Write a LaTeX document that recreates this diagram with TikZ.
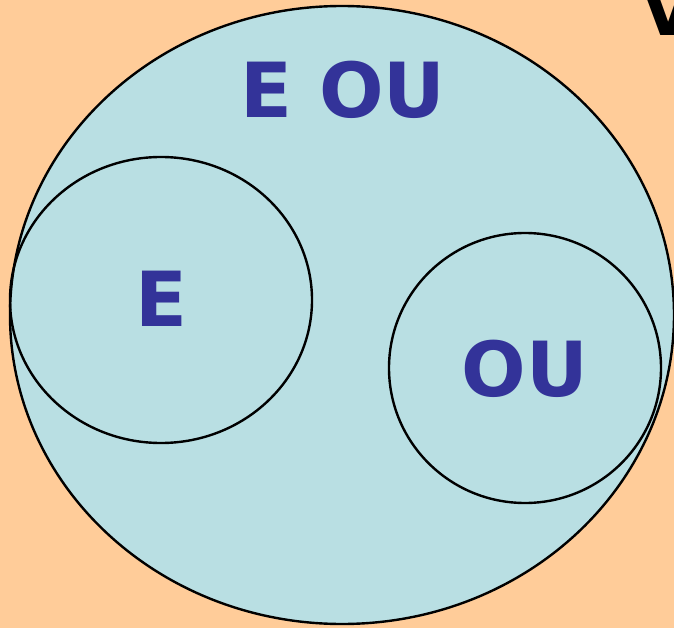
\documentclass[tikz,border=0pt]{standalone}
\usepackage{fontspec}
\setmainfont{DejaVu Sans}
\definecolor{bgorange}{RGB}{255,204,153}
\definecolor{setblue}{RGB}{185,223,227}
\definecolor{labelblue}{RGB}{51,51,153}
\begin{document}
\begin{tikzpicture}[x=1pt,y=-1pt,
  setline/.style={draw=black,line width=2.4pt},
  lbl/.style={text=labelblue,font=\fontsize{76}{76}\selectfont\bfseries,inner sep=0pt}]
\clip (0,0) rectangle (674,628);
\useasboundingbox (0,0) rectangle (674,628);
\fill[bgorange] (0,0) rectangle (674,628);
\node[anchor=base west,inner sep=0pt,font=\fontsize{70}{70}\selectfont\bfseries] (v) at (641,36) {V};
\filldraw[setline,fill=setblue] (342,315) ellipse [x radius=332, y radius=309];
\draw[setline] (161,300) ellipse [x radius=151, y radius=143];
\draw[setline] (525,368) ellipse [x radius=136, y radius=135];
\node[lbl,anchor=base] (eou) at (343,118) {E OU};
\node[lbl,anchor=base] (e) at (161,326) {E};
\node[lbl,anchor=base] (ou) at (525,396) {OU};
\end{tikzpicture}
\end{document}
